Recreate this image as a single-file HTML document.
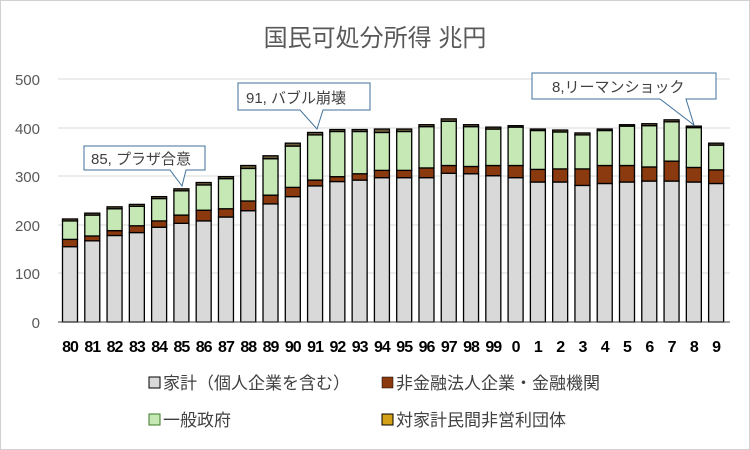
<!DOCTYPE html>
<html><head><meta charset="utf-8"><style>
body{margin:0;background:#fff;}
svg{display:block;font-family:"Liberation Sans","Noto Sans CJK JP",sans-serif;}
</style></head><body>
<svg id="s" width="750" height="450" viewBox="0 0 750 450">
<rect x="0.5" y="0.5" width="749" height="449" fill="#fff" stroke="#d0d0d0"/>
<text x="375" y="46" text-anchor="middle" font-size="24" fill="#595959">国民可処分所得 兆円</text>
<g font-size="15" fill="#595959" text-anchor="end">
<text x="40" y="85">500</text><text x="40" y="134">400</text><text x="40" y="182">300</text>
<text x="40" y="231">200</text><text x="40" y="279">100</text><text x="40" y="328">0</text>
</g>
<g stroke="#d9d9d9" stroke-width="1">
<line x1="58" x2="730" y1="79" y2="79"/><line x1="58" x2="730" y1="128" y2="128"/>
<line x1="58" x2="730" y1="176" y2="176"/><line x1="58" x2="730" y1="225" y2="225"/>
<line x1="58" x2="730" y1="273" y2="273"/>
</g>
<g id="bars"></g>
<line x1="58" x2="730" y1="322" y2="322" stroke="#404040" stroke-width="1"/>
<g id="xl" font-size="16" font-weight="bold" fill="#000" text-anchor="middle" letter-spacing="-1"></g>
<g font-size="15" fill="#404040">
<path d="M84 146 H205 V170 H186 L182 186 L170 170 H84 Z" fill="#fff" stroke="#41719c"/>
<text x="91" y="164">85, プラザ合意</text>
<path d="M238 83 H370 V110 H323 L317 129 L300 110 H238 Z" fill="#fff" stroke="#41719c"/>
<text x="246" y="103">91, バブル崩壊</text>
<path d="M532 73 H716 V99 H686 L694 125 L660 99 H532 Z" fill="#fff" stroke="#41719c"/>
<text x="552" y="92">8,リーマンショック</text>
</g>
<g font-size="17" fill="#404040">
<rect x="149" y="377" width="11" height="11" fill="#d9d9d9" stroke="#000"/>
<text x="163" y="389">家計（個人企業を含む）</text>
<rect x="382" y="377" width="11" height="11" fill="#8b3a0f" stroke="#000" stroke-width="0.5"/>
<text x="396" y="389">非金融法人企業・金融機関</text>
<rect x="149" y="414" width="11" height="11" fill="#c6e8b4" stroke="#3a7a2a"/>
<text x="163" y="426">一般政府</text>
<rect x="382" y="414" width="11" height="11" fill="#d4a017" stroke="#000"/>
<text x="396" y="426">対家計民間非営利団体</text>
</g>
</svg>
<script>
var d=[[155,170,208,212],[167,177,220,224],[178,188,233,237],[184,198,238,242],[195,208,254,258],[203,220,270,274],[208,230,282,287],[216,233,295,299],[229,249,316,322],[243,261,336,342],[258,277,362,368],[280,292,385,390],[289,299,392,396],[292,305,392,396],[297,312,390,397],[297,312,392,397],[297,317,402,406],[306,322,413,418],[305,320,402,406],[301,322,397,401],[297,322,401,404],[288,314,394,397],[288,315,391,395],[281,315,385,389],[285,322,394,397],[288,322,403,406],[290,319,404,408],[290,331,412,416],[288,318,400,403],[285,313,364,368]];
var lb=["80","81","82","83","84","85","86","87","88","89","90","91","92","93","94","95","96","97","98","99","0","1","2","3","4","5","6","7","8","9"];
var cols=["#d9d9d9","#8b3a0f","#c6e8b4","#6e5f3a"];
var g=document.getElementById('bars'),x=document.getElementById('xl'),h='',t='';
function Y(v){return 322-v*0.486;}
for(var i=0;i<30;i++){var cx=70+i*22.28,prev=0;
for(var k=0;k<4;k++){var v=d[i][k];h+='<rect x="'+(cx-7.5)+'" y="'+Y(v)+'" width="15" height="'+(Y(prev)-Y(v))+'" fill="'+cols[k]+'" stroke="#000" stroke-width="1.3"/>';prev=v;}
t+='<text x="'+cx+'" y="352">'+lb[i]+'</text>';}
g.innerHTML=h;x.innerHTML=t;
</script>
</body></html>
